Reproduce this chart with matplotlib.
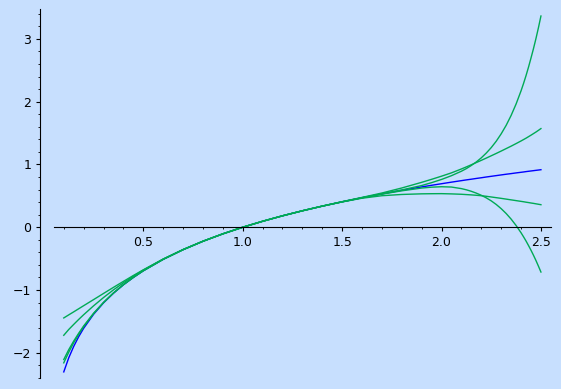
import matplotlib
matplotlib.use('Agg')
import matplotlib.pyplot as plt
from matplotlib.ticker import MultipleLocator

# sample positions along x (denser where the curves bend hard)
xs = [0.1, 0.125, 0.15, 0.175, 0.2, 0.25, 0.3, 0.35, 0.4, 0.45,
      0.5, 0.6, 0.7, 0.8, 0.9, 1.0, 1.1, 1.2, 1.3, 1.4,
      1.5, 1.6, 1.7, 1.8, 1.9, 1.95, 2.0, 2.05, 2.1, 2.125,
      2.15, 2.175, 2.2, 2.225, 2.25, 2.275, 2.3, 2.325, 2.35, 2.375,
      2.4, 2.4125, 2.425, 2.4375, 2.45, 2.4625, 2.475, 2.4875, 2.5]

# blue curve
blue_y = [-2.303, -2.079, -1.897, -1.743, -1.609, -1.386, -1.204, -1.050, -0.916, -0.799,
          -0.693, -0.511, -0.357, -0.223, -0.105, 0.0, 0.095, 0.182, 0.262, 0.336,
          0.405, 0.470, 0.531, 0.588, 0.642, 0.668, 0.693, 0.718, 0.742, 0.754,
          0.765, 0.777, 0.788, 0.800, 0.811, 0.822, 0.833, 0.844, 0.854, 0.865,
          0.875, 0.880, 0.886, 0.891, 0.896, 0.901, 0.906, 0.911, 0.916]

# green approximations
green_a = [-1.444, -1.395, -1.347, -1.298, -1.249, -1.152, -1.054, -0.957, -0.862, -0.768,
           -0.678, -0.506, -0.356, -0.223, -0.105, 0.0, 0.095, 0.182, 0.262, 0.336,
           0.403, 0.462, 0.502, 0.522, 0.532, 0.534, 0.535, 0.531, 0.525, 0.520,
           0.515, 0.509, 0.502, 0.493, 0.482, 0.471, 0.460, 0.448, 0.436, 0.424,
           0.412, 0.406, 0.399, 0.393, 0.386, 0.380, 0.373, 0.366, 0.359]

green_b = [-1.720, -1.628, -1.547, -1.468, -1.393, -1.251, -1.119, -0.997, -0.884, -0.780,
           -0.682, -0.508, -0.356, -0.223, -0.105, 0.0, 0.095, 0.182, 0.262, 0.337,
           0.407, 0.475, 0.545, 0.625, 0.715, 0.763, 0.813, 0.866, 0.928, 0.961,
           0.995, 1.030, 1.065, 1.101, 1.138, 1.175, 1.213, 1.252, 1.291, 1.332,
           1.374, 1.396, 1.418, 1.442, 1.466, 1.491, 1.516, 1.543, 1.571]

green_c = [-2.106, -1.949, -1.812, -1.688, -1.572, -1.369, -1.196, -1.046, -0.914, -0.798,
           -0.693, -0.511, -0.357, -0.223, -0.105, 0.0, 0.095, 0.182, 0.262, 0.336,
           0.405, 0.470, 0.532, 0.594, 0.664, 0.710, 0.761, 0.821, 0.892, 0.934,
           0.984, 1.040, 1.105, 1.181, 1.268, 1.369, 1.487, 1.622, 1.780, 1.962,
           2.172, 2.289, 2.414, 2.549, 2.694, 2.844, 3.005, 3.178, 3.363]

green_d = [-2.159, -1.989, -1.839, -1.705, -1.584, -1.375, -1.199, -1.048, -0.915, -0.799,
           -0.693, -0.511, -0.357, -0.223, -0.105, 0.0, 0.095, 0.182, 0.262, 0.336,
           0.405, 0.469, 0.527, 0.580, 0.624, 0.638, 0.645, 0.640, 0.615, 0.596,
           0.572, 0.543, 0.509, 0.468, 0.420, 0.363, 0.296, 0.219, 0.130, 0.028,
           -0.088, -0.152, -0.219, -0.291, -0.366, -0.446, -0.530, -0.620, -0.713]

BG = '#c7dffe'
GREEN = '#00aa55'

fig = plt.figure(figsize=(5.61, 3.89), dpi=100, facecolor=BG)
ax = fig.add_axes([0.0963, 0.0283, 0.8853, 0.9478], facecolor=BG)

ax.plot(xs, blue_y, color='#0000ff', lw=1.0)
for ys in (green_a, green_b, green_c, green_d):
    ax.plot(xs, ys, color=GREEN, lw=1.0)

ax.set_xlim(0.051, 2.549)
ax.set_ylim(-2.40, 3.47)

# sage-like axes: x axis through y=0, y axis pushed out to the left
ax.spines['top'].set_visible(False)
ax.spines['right'].set_visible(False)
ax.spines['bottom'].set_position(('data', 0))
ax.spines['left'].set_position(('outward', 10))

ax.xaxis.set_major_locator(MultipleLocator(0.5))
ax.xaxis.set_minor_locator(MultipleLocator(0.1))
ax.yaxis.set_major_locator(MultipleLocator(1))
ax.yaxis.set_minor_locator(MultipleLocator(0.2))

ax.tick_params(which='major', length=3, labelsize=9, direction='out')
ax.tick_params(which='minor', length=1.7, direction='out')

fig.savefig('out.png', dpi=100, facecolor=BG)
